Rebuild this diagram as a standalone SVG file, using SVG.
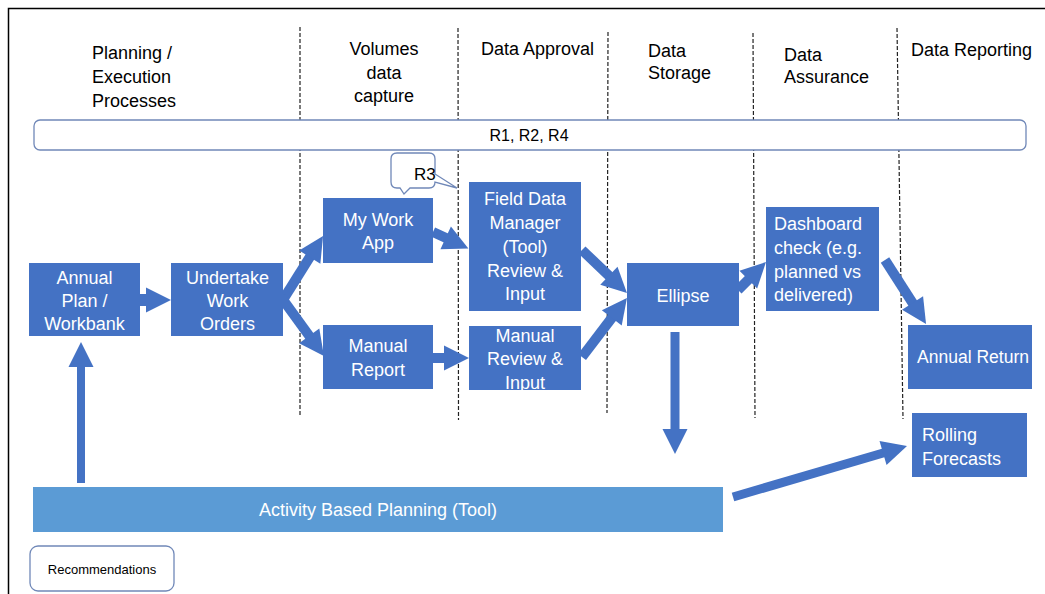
<svg xmlns="http://www.w3.org/2000/svg" width="1045" height="594" viewBox="0 0 1045 594">
<style>
text{font-family:"Liberation Sans",Arial,sans-serif;}
.hdr{font-size:18px;fill:#000;}
.box{fill:#4472C4;}
.lbl{font-size:18px;fill:#fff;text-anchor:middle;}
.lbll{font-size:18px;fill:#fff;}
.dash{stroke:#222;stroke-width:1.2;stroke-dasharray:4 2;fill:none;}
.arr{stroke:#4472C4;fill:none;stroke-linecap:butt;marker-end:url(#head);}
.outline{fill:#fff;stroke:#7088b8;stroke-width:1.3;}
</style>
<defs>
<marker id="head" markerUnits="userSpaceOnUse" viewBox="-2 -13 27 26" markerWidth="27" markerHeight="26" refX="0" refY="0" orient="auto" overflow="visible">
<path d="M-1,-12.5 L24,0 L-1,12.5 Z" fill="#4472C4"/>
</marker>
</defs>
<rect width="1045" height="594" fill="#fff"/>
<g id="frame" stroke="#000" stroke-width="1.5" fill="none">
<path d="M8.5,594 V8.5 H1045"/>
</g>
<g id="lanes">
<line class="dash" x1="300" y1="27" x2="300" y2="415"/>
<line class="dash" x1="458" y1="28" x2="458.5" y2="420"/>
<line class="dash" x1="608" y1="32" x2="607" y2="413"/>
<line class="dash" x1="753" y1="33" x2="755" y2="418"/>
<line class="dash" x1="897" y1="28" x2="903" y2="419"/>
</g>
<g id="headers">
<text class="hdr" x="92" y="59">Planning /</text>
<text class="hdr" x="92" y="83">Execution</text>
<text class="hdr" x="92" y="107">Processes</text>
<text class="hdr" x="384" y="55" text-anchor="middle">Volumes</text>
<text class="hdr" x="384" y="79" text-anchor="middle">data</text>
<text class="hdr" x="384" y="102" text-anchor="middle">capture</text>
<text class="hdr" x="481" y="55">Data Approval</text>
<text class="hdr" x="648" y="57">Data</text>
<text class="hdr" x="648" y="79">Storage</text>
<text class="hdr" x="784" y="61">Data</text>
<text class="hdr" x="784" y="83">Assurance</text>
<text class="hdr" x="911" y="56">Data Reporting</text>
</g>
<g id="recs-bar">
<rect class="outline" x="34" y="120" width="992" height="30" rx="6"/>
<text x="529" y="141" font-size="16" text-anchor="middle" fill="#000">R1, R2, R4</text>
</g>
<g id="connectors">
<line class="arr" stroke-width="12" x1="140" y1="300" x2="147" y2="300"/>
<line class="arr" stroke-width="10" x1="281" y1="303" x2="310.3" y2="256.3"/>
<line class="arr" stroke-width="10" x1="281" y1="297" x2="309.8" y2="336.6"/>
<line class="arr" stroke-width="10" x1="433" y1="232" x2="446.6" y2="238.3"/>
<line class="arr" stroke-width="10" x1="433" y1="358" x2="445" y2="358"/>
<line class="arr" stroke-width="10" x1="582" y1="250" x2="609.6" y2="276.4"/>
<line class="arr" stroke-width="10" x1="582" y1="357" x2="612.4" y2="317.1"/>
<line class="arr" stroke-width="10" x1="738" y1="290" x2="749" y2="279"/>
<line class="arr" stroke-width="10" x1="885" y1="260" x2="913.1" y2="303.8"/>
<line class="arr" stroke-width="9" x1="675" y1="332" x2="675" y2="430"/>
<line class="arr" stroke-width="9" x1="733" y1="497" x2="884" y2="452.7"/>
<line class="arr" stroke-width="8" x1="81" y1="483" x2="81" y2="366"/>
</g>
<g id="annual-plan">
<rect class="box" x="29" y="263" width="111" height="73"/>
<text class="lbl" x="84.5" y="284">Annual</text>
<text class="lbl" x="84.5" y="307">Plan /</text>
<text class="lbl" x="84.5" y="330">Workbank</text>
</g>
<g id="undertake">
<rect class="box" x="171" y="263" width="112" height="73"/>
<text class="lbl" x="227.5" y="284">Undertake</text>
<text class="lbl" x="227.5" y="307">Work</text>
<text class="lbl" x="227.5" y="330">Orders</text>
</g>
<g id="my-work-app">
<rect class="box" x="323" y="198" width="110" height="65"/>
<text class="lbl" x="378" y="226">My Work</text>
<text class="lbl" x="378" y="249">App</text>
</g>
<g id="manual-report">
<rect class="box" x="323" y="325" width="110" height="64"/>
<text class="lbl" x="378" y="352">Manual</text>
<text class="lbl" x="378" y="376">Report</text>
</g>
<g id="r3-callout">
<path class="outline" d="M397,153 H429 Q435,153 435,159 V174 L457,188 L435,182 Q435,188 429,188 H410 L404,194 L400,188 H397 Q391,188 391,182 V159 Q391,153 397,153 Z"/>
<text x="414" y="180" font-size="17" fill="#000">R3</text>
</g>
<g id="field-data-manager">
<rect class="box" x="469" y="182" width="112" height="129"/>
<text class="lbl" x="525" y="205">Field Data</text>
<text class="lbl" x="525" y="229">Manager</text>
<text class="lbl" x="525" y="253">(Tool)</text>
<text class="lbl" x="525" y="277">Review &amp;</text>
<text class="lbl" x="525" y="300">Input</text>
</g>
<g id="manual-review">
<rect class="box" x="469" y="326" width="112" height="64"/>
<text class="lbl" x="525" y="342">Manual</text>
<text class="lbl" x="525" y="365">Review &amp;</text>
<text class="lbl" x="525" y="389">Input</text>
</g>
<g id="ellipse">
<rect class="box" x="627" y="263" width="112" height="63"/>
<text class="lbl" x="683" y="302">Ellipse</text>
</g>
<g id="dashboard">
<rect class="box" x="766" y="207" width="113" height="104"/>
<text class="lbll" x="774" y="230">Dashboard</text>
<text class="lbll" x="774" y="254">check (e.g.</text>
<text class="lbll" x="774" y="278">planned vs</text>
<text class="lbll" x="774" y="301">delivered)</text>
</g>
<g id="annual-return">
<rect class="box" x="908" y="325" width="124" height="64"/>
<text class="lbll" x="917" y="363" font-size="17" textLength="112" lengthAdjust="spacingAndGlyphs">Annual Return</text>
</g>
<g id="rolling-forecasts">
<rect class="box" x="912" y="413" width="115" height="64"/>
<text class="lbll" x="922" y="441">Rolling</text>
<text class="lbll" x="922" y="465">Forecasts</text>
</g>
<g id="abp">
<rect x="33" y="487" width="690" height="45" fill="#5B9BD5"/>
<text class="lbl" x="378" y="516">Activity Based Planning (Tool)</text>
</g>
<g id="recommendations">
<rect class="outline" x="30" y="546" width="144" height="45" rx="8"/>
<text x="102" y="574" font-size="13" text-anchor="middle" fill="#000">Recommendations</text>
</g>
</svg>
